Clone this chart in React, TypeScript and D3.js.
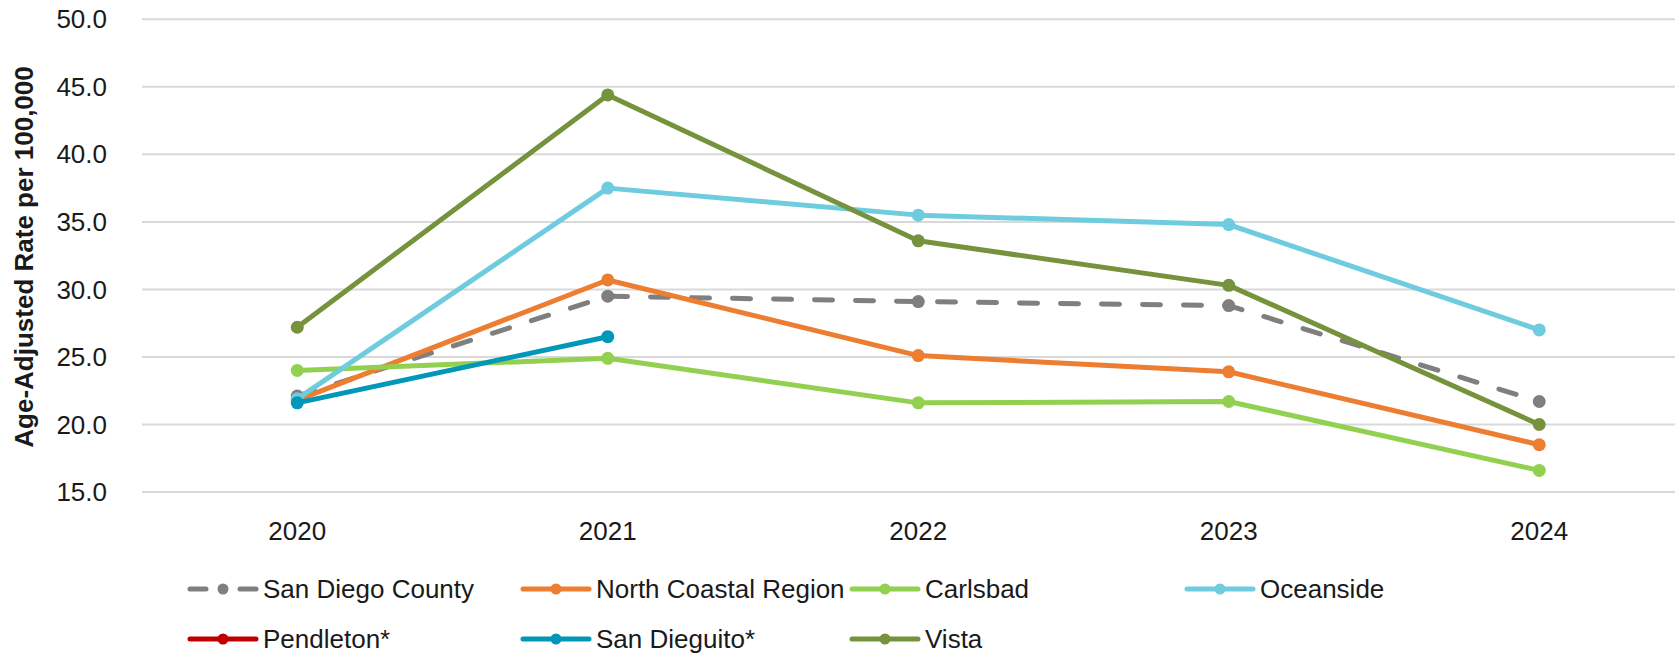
import React from "react";
import * as d3 from "d3";

const years = ["2020", "2021", "2022", "2023", "2024"];
const yTicks = [15, 20, 25, 30, 35, 40, 45, 50];

const sanDiegoCounty = [22.1, 29.5, 29.1, 28.8, 21.7];
const northCoastal = [21.8, 30.7, 25.1, 23.9, 18.5];
const carlsbad = [24.0, 24.9, 21.6, 21.7, 16.6];
const oceanside = [21.9, 37.5, 35.5, 34.8, 27.0];
const pendleton: (number | null)[] = [null, null, null, null, null];
const sanDieguito: (number | null)[] = [21.6, 26.5, null, null, null];
const vista = [27.2, 44.4, 33.6, 30.3, 20.0];

const seriesNames = [
  "San Diego County",
  "North Coastal Region",
  "Carlsbad",
  "Oceanside",
  "Pendleton*",
  "San Dieguito*",
  "Vista",
];
const seriesValues: (number | null)[][] = [
  sanDiegoCounty,
  northCoastal,
  carlsbad,
  oceanside,
  pendleton,
  sanDieguito,
  vista,
];
const seriesColors = ["#7F7F7F", "#ED7D31", "#92D050", "#6ECCDE", "#C00000", "#0097B9", "#76923C"];
const seriesDashed = [true, false, false, false, false, false, false];

const FONT = "'Liberation Sans', Arial, sans-serif";

export default function App() {
  const W = 1675;
  const H = 653;
  const x = d3.scaleBand<string>().domain(years).range([142, 1694.5]).padding(0);
  const cx = (yr: string) => (x(yr) as number) + x.bandwidth() / 2;
  const y = d3.scaleLinear().domain([15, 50]).range([492, 19.3]);

  const line = d3
    .line<{ yr: string; v: number | null }>()
    .defined((d) => d.v !== null)
    .x((d) => cx(d.yr))
    .y((d) => y(d.v as number));

  const legendCols = [190, 523, 852, 1187];
  const legendRows = [589, 639];

  return (
    <svg
      width={W}
      height={H}
      style={{ position: "absolute", left: 0, top: 0, background: "#fff" }}
      fontFamily={FONT}
    >
      <rect width={W} height={H} fill="#fff" />
      {yTicks.map((t) => (
        <g key={t}>
          <line x1={142} x2={W} y1={y(t)} y2={y(t)} stroke="#D9D9D9" strokeWidth={2} />
          <text
            x={107}
            y={y(t)}
            dy="0.35em"
            textAnchor="end"
            fontSize={26}
            fill="#1a1a1a"
          >
            {t.toFixed(1)}
          </text>
        </g>
      ))}
      {years.map((yr) => (
        <text key={yr} x={cx(yr)} y={531} dy="0.35em" textAnchor="middle" fontSize={26} fill="#1a1a1a">
          {yr}
        </text>
      ))}
      <text
        transform={`translate(24,257) rotate(-90)`}
        textAnchor="middle"
        dy="0.35em"
        fontSize={26}
        fontWeight="bold"
        fill="#1a1a1a"
      >
        Age-Adjusted Rate per 100,000
      </text>

      {seriesValues.map((vals, i) => {
        const data = years.map((yr, j) => ({ yr, v: vals[j] }));
        return (
          <g key={seriesNames[i]}>
            <path
              d={line(data) || ""}
              fill="none"
              stroke={seriesColors[i]}
              strokeWidth={5}
              strokeLinejoin="round"
              strokeLinecap={seriesDashed[i] ? "round" : "butt"}
              strokeDasharray={seriesDashed[i] ? "18 23" : undefined}
            />
            {data
              .filter((d) => d.v !== null)
              .map((d) => (
                <circle key={d.yr} cx={cx(d.yr)} cy={y(d.v as number)} r={6.5} fill={seriesColors[i]} />
              ))}
          </g>
        );
      })}

      {seriesNames.map((name, i) => {
        const col = i < 4 ? i : i - 4;
        const row = i < 4 ? 0 : 1;
        const lx = legendCols[col];
        const ly = legendRows[row];
        return (
          <g key={name}>
            {seriesDashed[i] ? (
              <>
                <line x1={lx} x2={lx + 16} y1={ly} y2={ly} stroke={seriesColors[i]} strokeWidth={5} strokeLinecap="round" />
                <line x1={lx + 50} x2={lx + 66} y1={ly} y2={ly} stroke={seriesColors[i]} strokeWidth={5} strokeLinecap="round" />
              </>
            ) : (
              <line x1={lx} x2={lx + 66} y1={ly} y2={ly} stroke={seriesColors[i]} strokeWidth={5} strokeLinecap="round" />
            )}
            <circle cx={lx + 33} cy={ly} r={5.5} fill={seriesColors[i]} />
            <text x={lx + 73} y={ly} dy="0.35em" fontSize={26} fill="#1a1a1a">
              {name}
            </text>
          </g>
        );
      })}
    </svg>
  );
}
